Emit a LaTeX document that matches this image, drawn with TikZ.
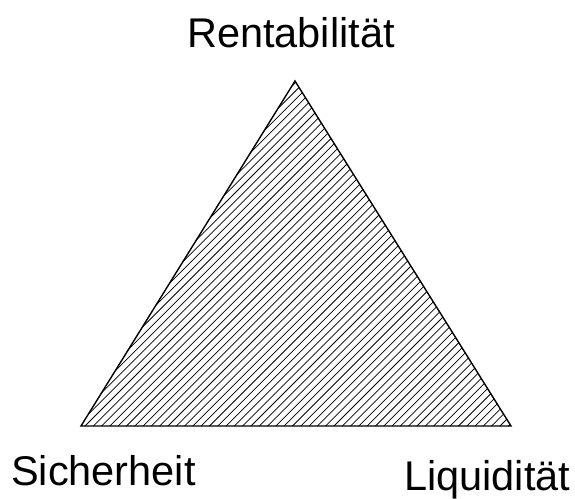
\documentclass[tikz,border=0pt]{standalone}
\usepackage{fontspec}
\setmainfont{Liberation Sans}
\begin{document}
\begin{tikzpicture}[x=1pt,y=-1pt,
  lbl/.style={inner sep=0, anchor=base west, font=\fontsize{41.5}{50}\selectfont},
  hatch/.style={line width=0.75pt, black},
  edge/.style={line width=1.4pt, line join=miter, black}]
\useasboundingbox (0,0) rectangle (575,498);
\coordinate (top) at (295,81);
\coordinate (bl) at (81,426);
\coordinate (br) at (511,426);
\begin{scope}
  \clip (top) -- (bl) -- (br) -- cycle;
  \foreach \i in {-45,...,55} {
    \draw[hatch] (81+\i*8.3,430) -- ++(360,-360);
  }
\end{scope}
\draw[edge] (top) -- (bl) -- (br) -- cycle;
\node[lbl] (r) at (187,47) {Rentabilität};
\node[lbl] (s) at (11,485) {Sicherheit};
\node[lbl] (l) at (404,490) {Liquidität};
\end{tikzpicture}
\end{document}
